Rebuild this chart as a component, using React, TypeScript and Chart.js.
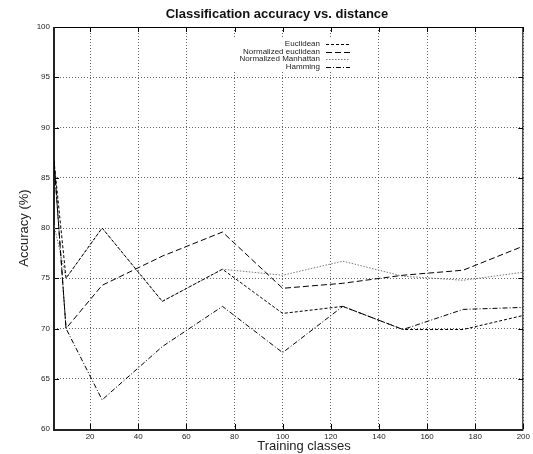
import React, { useEffect, useRef } from 'react';
import { Chart, registerables } from 'chart.js';

Chart.register(...registerables);

const FONT = "'Liberation Sans', Arial, Helvetica, sans-serif";

const trainingClasses = [5, 10, 25, 50, 75, 100, 125, 150, 175, 200];
const euclidean = [86.7, 75.0, 80.0, 72.7, 75.9, 71.5, 72.2, 69.9, 69.9, 71.3];
const normalizedEuclidean = [86.7, 70.0, 74.3, 77.2, 79.6, 74.0, 74.5, 75.3, 75.8, 78.2];
const normalizedManhattan = [80.3, 75.0, 80.0, 72.7, 75.9, 75.3, 76.7, 75.2, 74.8, 75.6];
const hamming = [86.7, 70.0, 62.9, 68.2, 72.2, 67.6, 72.2, 69.9, 71.9, 72.1];

const seriesLabels = ['Euclidean', 'Normalized euclidean', 'Normalized Manhattan', 'Hamming'];
const xTicks = [20, 40, 60, 80, 100, 120, 140, 160, 180, 200];
const yTicks = [60, 65, 70, 75, 80, 85, 90, 95, 100];

const chartTitle = 'Classification accuracy vs. distance';
const xTitle = 'Training classes';
const yTitle = 'Accuracy (%)';

const App = () => {
  const ref = useRef<HTMLCanvasElement>(null);

  useEffect(() => {
    const canvas = ref.current;
    if (!canvas) return;
    const toPts = (ys: number[]) => trainingClasses.map((x, i) => ({ x, y: ys[i] }));
    const styles = [
      { color: '#000', dash: [3, 2] },
      { color: '#000', dash: [6, 3] },
      { color: '#777', dash: [1.5, 1.5] },
      { color: '#000', dash: [5, 2, 1, 2] },
    ];
    const values = [euclidean, normalizedEuclidean, normalizedManhattan, hamming];

    const decor = {
      id: 'decor',
      beforeDatasetsDraw(chart: any) {
        const { ctx, chartArea: a, scales } = chart;
        const xs = scales.x;
        const ys = scales.y;
        ctx.save();
        // legend background
        ctx.fillStyle = '#fff';
        ctx.fillRect(232, 37, 124, 35);
        // inward ticks
        ctx.strokeStyle = '#000';
        ctx.lineWidth = 1;
        ctx.setLineDash([]);
        ctx.beginPath();
        xTicks.forEach((v) => {
          const px = Math.round(xs.getPixelForValue(v)) + 0.5;
          ctx.moveTo(px, a.bottom);
          ctx.lineTo(px, a.bottom - 5);
          ctx.moveTo(px, a.top);
          ctx.lineTo(px, a.top + 5);
        });
        yTicks.forEach((v) => {
          const py = Math.round(ys.getPixelForValue(v)) + 0.5;
          ctx.moveTo(a.left, py);
          ctx.lineTo(a.left + 5, py);
          ctx.moveTo(a.right, py);
          ctx.lineTo(a.right - 5, py);
        });
        ctx.stroke();
        // frame
        ctx.beginPath();
        ctx.moveTo(a.left, a.top + 0.5);
        ctx.lineTo(a.right, a.top + 0.5);
        ctx.moveTo(a.right - 0.5, a.top);
        ctx.lineTo(a.right - 0.5, a.bottom);
        ctx.stroke();
        ctx.lineWidth = 2;
        ctx.strokeStyle = '#222';
        ctx.beginPath();
        ctx.moveTo(a.left, a.top);
        ctx.lineTo(a.left, a.bottom + 1);
        ctx.lineTo(a.right, a.bottom + 1);
        ctx.stroke();
        ctx.restore();
      },
      afterDatasetsDraw(chart: any) {
        const { ctx } = chart;
        ctx.save();
        // legend
        ctx.font = `8px ${FONT}`;
        ctx.textAlign = 'right';
        ctx.textBaseline = 'middle';
        chart.data.datasets.forEach((ds: any, i: number) => {
          const y = 44 + i * 7.6;
          ctx.fillStyle = '#222';
          ctx.fillText(ds.label, 320, y);
          ctx.strokeStyle = ds.borderColor;
          ctx.lineWidth = 1;
          ctx.setLineDash(ds.borderDash);
          ctx.beginPath();
          ctx.moveTo(326, Math.round(y) + 0.5);
          ctx.lineTo(350, Math.round(y) + 0.5);
          ctx.stroke();
        });
        ctx.setLineDash([]);
        // titles
        ctx.textAlign = 'center';
        ctx.fillStyle = '#111';
        ctx.font = `bold 13px ${FONT}`;
        ctx.fillText(chartTitle, 277, 14);
        ctx.font = `13px ${FONT}`;
        ctx.fillStyle = '#222';
        ctx.fillText(xTitle, 304, 446);
        ctx.restore();
      },
    };

    const chart = new Chart(canvas, {
      type: 'line',
      data: {
        datasets: seriesLabels.map((label, i) => ({
          label,
          data: toPts(values[i]),
          borderColor: styles[i].color,
          borderDash: styles[i].dash,
          borderWidth: 1,
          pointRadius: 0,
          fill: false,
          tension: 0,
        })),
      },
      options: {
        responsive: false,
        animation: false,
        devicePixelRatio: 1,
        layout: { padding: { left: 0, right: 7, top: 27, bottom: 0 } },
        plugins: {
          legend: { display: false },
          title: { display: false },
          tooltip: { enabled: false },
        },
        scales: {
          x: {
            type: 'linear',
            min: 5,
            max: 200,
            afterBuildTicks: (s: any) => {
              s.ticks = xTicks.map((v) => ({ value: v }));
            },
            afterFit: (s: any) => {
              s.height = 25;
            },
            ticks: {
              font: { size: 8, family: FONT },
              color: '#222',
              padding: 3,
              maxRotation: 0,
              autoSkip: false,
            },
            grid: { color: 'rgba(0,0,0,0.6)', drawTicks: false, lineWidth: 1 },
            border: { display: false, dash: [1, 2] },
          },
          y: {
            type: 'linear',
            min: 60,
            max: 100,
            afterBuildTicks: (s: any) => {
              s.ticks = yTicks.map((v) => ({ value: v }));
            },
            afterFit: (s: any) => {
              s.width = 54;
            },
            ticks: {
              font: { size: 8, family: FONT },
              color: '#222',
              padding: 4,
              autoSkip: false,
            },
            title: {
              display: true,
              text: yTitle,
              font: { size: 13, family: FONT },
              color: '#222',
              padding: { top: 17, bottom: 0 },
            },
            grid: { color: 'rgba(0,0,0,0.6)', drawTicks: false, lineWidth: 1 },
            border: { display: false, dash: [1, 2] },
          },
        },
      },
      plugins: [decor],
    });
    return () => chart.destroy();
  }, []);

  return (
    <div style={{ position: 'absolute', left: 0, top: 0, width: 533, height: 454, background: '#fff' }}>
      <canvas ref={ref} width={533} height={454} style={{ width: 533, height: 454, display: 'block' }} />
    </div>
  );
};

export default App;
